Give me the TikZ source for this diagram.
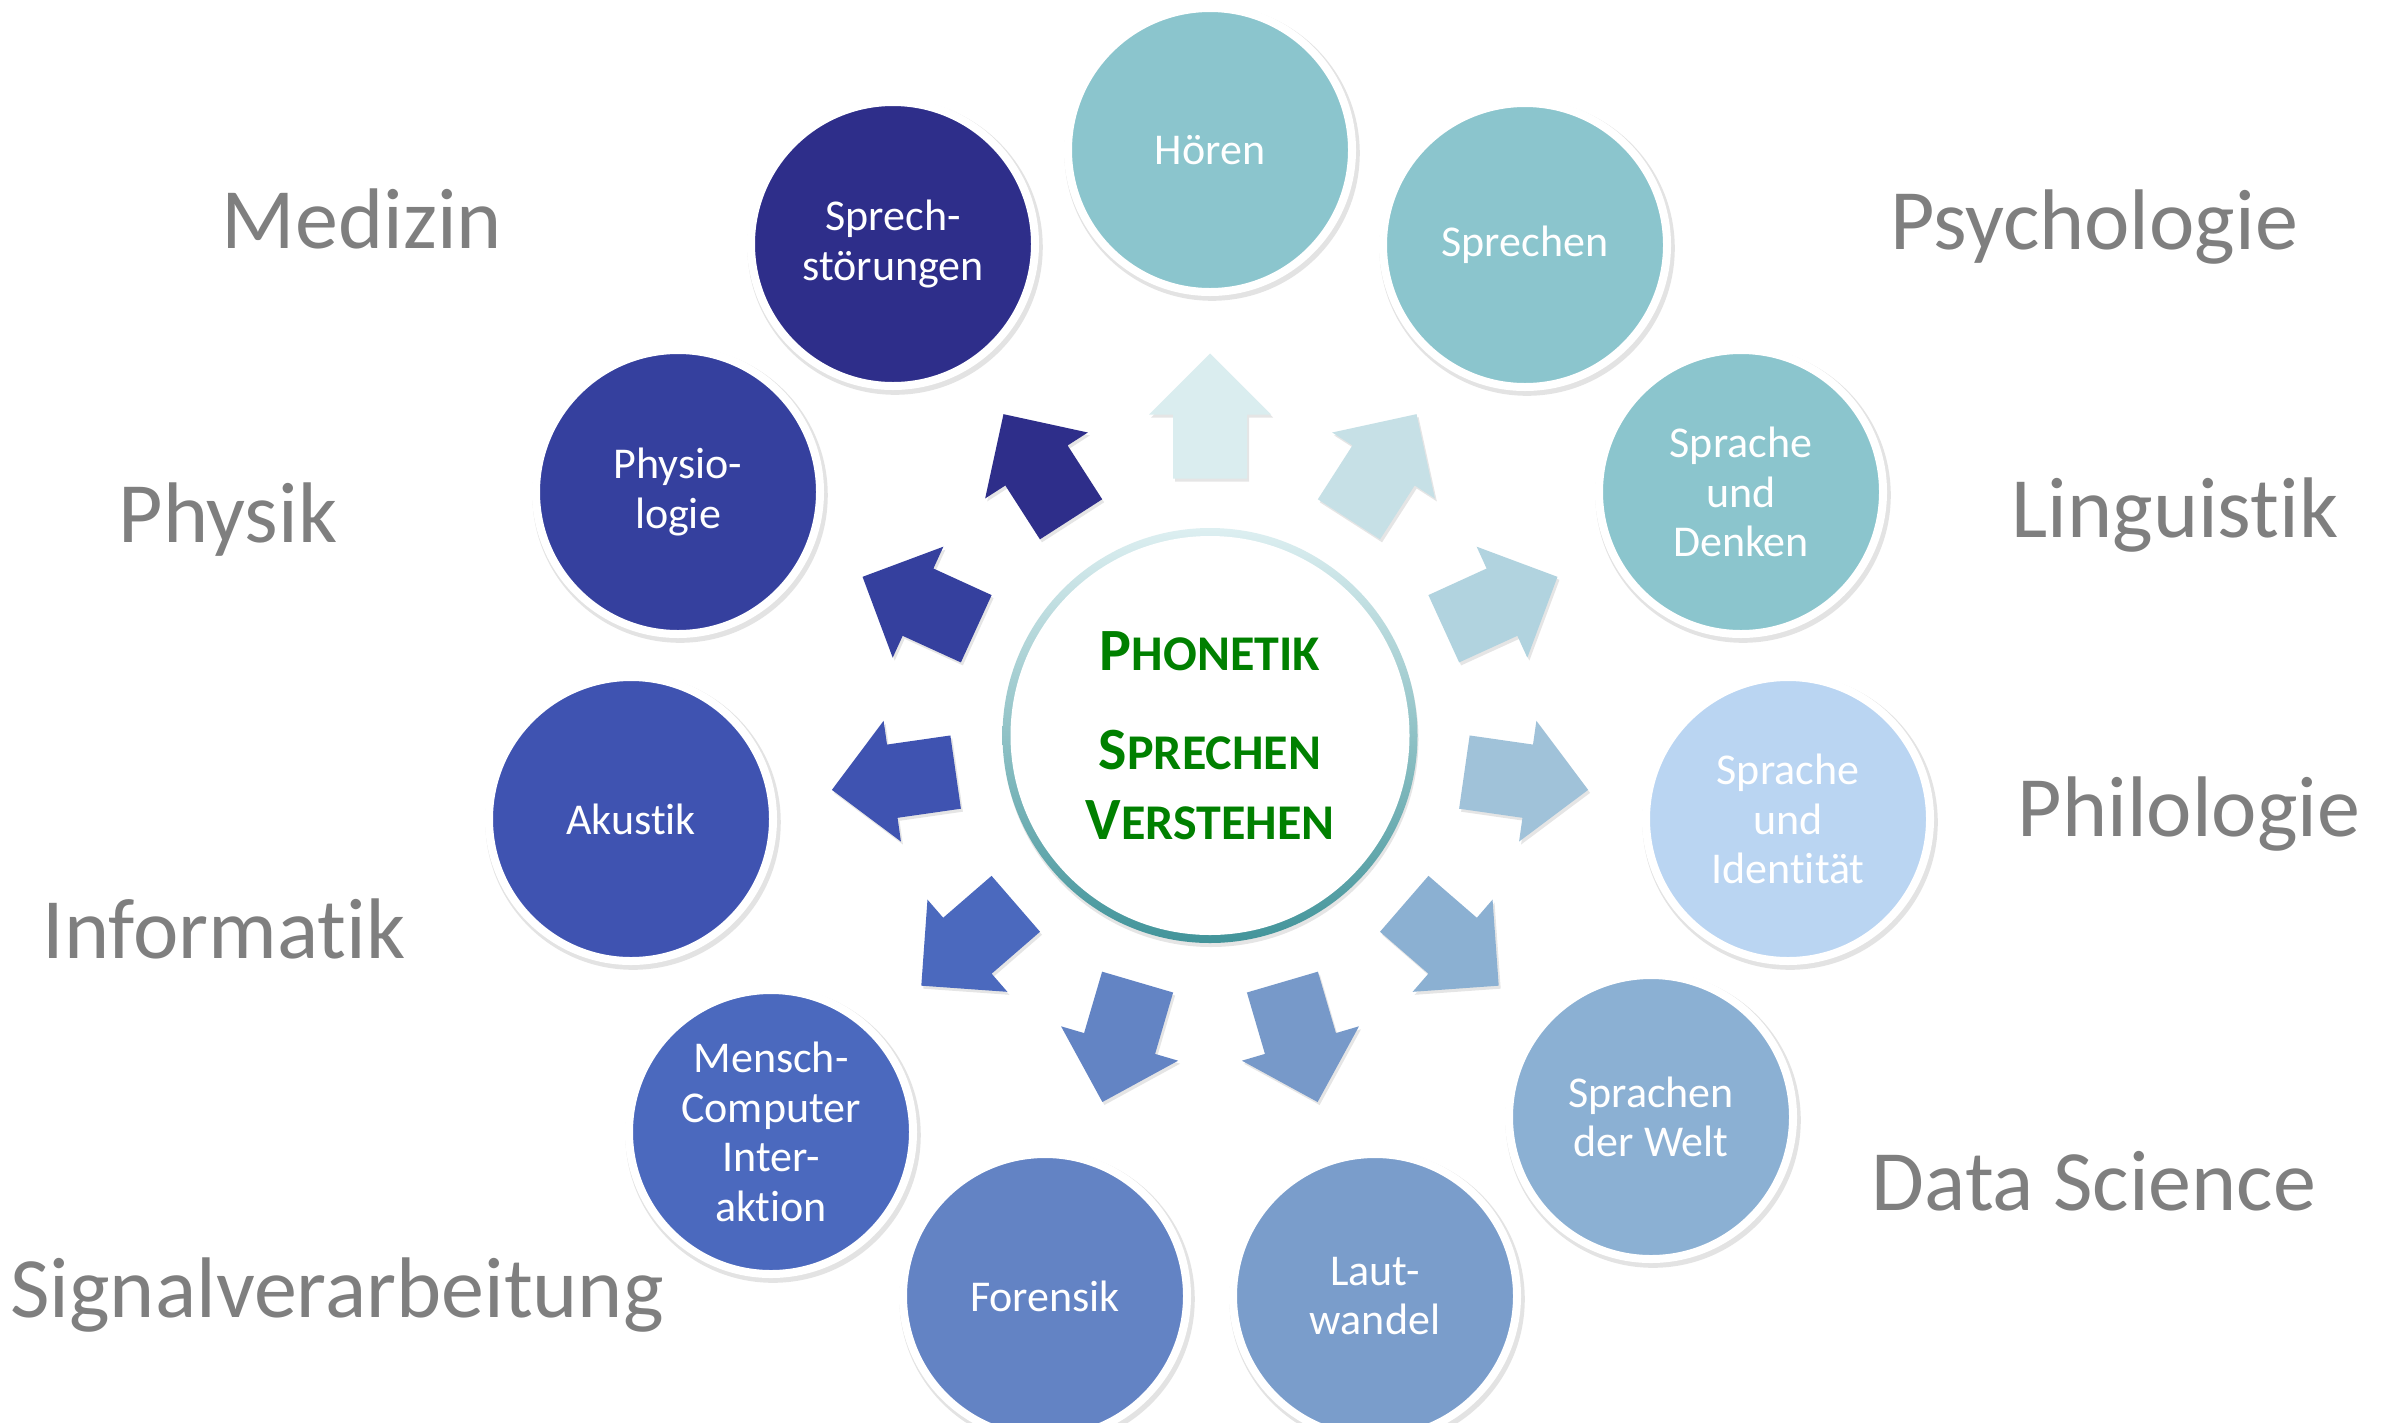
\documentclass[tikz,border=0pt]{standalone}
\usepackage{fontspec}
\setmainfont{Carlito}[RawFeature={-liga;-clig;-dlig;-calt}]
\usetikzlibrary{shapes,arrows,positioning,shadows,calc}

\definecolor{labelgray}{HTML}{7F7F7F}
\definecolor{phongreen}{HTML}{008000}
\definecolor{ringtop}{HTML}{DDEFF1}
\definecolor{ringmid}{HTML}{A6D2D5}
\definecolor{ringbot}{HTML}{42949A}
\definecolor{teal}{HTML}{8BC5CD}
\definecolor{paleblue}{HTML}{BAD5F2}
\definecolor{c5}{HTML}{8BB0D3}
\definecolor{c6}{HTML}{7A9DCB}
\definecolor{c7}{HTML}{6383C4}
\definecolor{c8}{HTML}{4B69BE}
\definecolor{c9}{HTML}{3F53B1}
\definecolor{c10}{HTML}{35409E}
\definecolor{c11}{HTML}{2E2E8A}
\definecolor{arr1}{HTML}{DAEDEF}
\definecolor{arr2}{HTML}{C6E0E6}
\definecolor{arr3}{HTML}{B1D3DF}
\definecolor{arr4}{HTML}{A0C2D9}
\definecolor{arr5}{HTML}{8BB0D2}
\definecolor{arr6}{HTML}{7799C9}
\definecolor{arr7}{HTML}{6384C4}
\definecolor{arr8}{HTML}{4B69BE}
\definecolor{arr9}{HTML}{3F53B1}
\definecolor{arr10}{HTML}{35409E}
\definecolor{arr11}{HTML}{2E2E8A}

\newcommand{\capsc}[2]{{\fontsize{60}{70}\selectfont #1}{\fontsize{50}{70}\selectfont #2}}

\tikzset{
  topic/.style={circle, minimum size=284pt, inner sep=0pt, draw=white, line width=8pt,
    text=white, align=center, font=\fontsize{44}{49.5}\selectfont,
    drop shadow={shadow xshift=2pt, shadow yshift=-3pt, shadow scale=1.04, opacity=.22}},
  field/.style={anchor=base, text=labelgray, font=\fontsize{86}{90}\selectfont},
  blockarrow/.style={drop shadow={shadow xshift=2pt, shadow yshift=-3pt, opacity=.2}}
}

\begin{document}
\begin{tikzpicture}[x=1pt,y=1pt]
			\useasboundingbox[fill=white] (0,0) rectangle (2389,-1422);

			\node[circle, minimum size=415pt, inner sep=0pt, top color=ringtop, middle color=ringmid, bottom color=ringbot,
			  drop shadow={shadow xshift=1pt, shadow yshift=-4pt, opacity=.2}] (ring) at (1210,-735.5) {};
			\node[circle, fill=white, minimum size=399pt, inner sep=0pt, align=center, text=phongreen,
			  font=\fontsize{60}{70}\selectfont\bfseries] (core) at (ring) {\capsc{P}{HONETIK}\\[29pt]\capsc{S}{PRECHEN}\\\capsc{V}{ERSTEHEN}};

			\foreach \i in {1,...,11} {
			  \pgfmathsetmacro{\a}{90-(\i-1)*360/11}
			  \fill[arr\i, blockarrow] ($(core)+(\a:257)+(\a-90:37)$) -- ($(core)+(\a:321)+(\a-90:37)$)
			    -- ($(core)+(\a:321)+(\a-90:61)$) -- ($(core)+(\a:382)$) -- ($(core)+(\a:321)+(\a+90:61)$)
			    -- ($(core)+(\a:321)+(\a+90:37)$) -- ($(core)+(\a:257)+(\a+90:37)$) -- cycle;
			}

			\node[topic, fill=teal] (hoeren) at (1210,-150) {Hören};
			\node[topic, fill=teal] (sprechen) at (1525,-245) {Sprechen};
			\node[topic, fill=teal] (denken) at (1741,-492) {Sprache\\und\\Denken};
			\node[topic, fill=paleblue] (identitaet) at (1788,-819) {Sprache\\und\\Identität};
			\node[topic, fill=c5] (welt) at (1651,-1117) {Sprachen\\der Welt};
			\node[topic, fill=c6] (lautwandel) at (1375,-1296) {Laut-\\wandel};
			\node[topic, fill=c7] (forensik) at (1045,-1296) {Forensik};
			\node[topic, fill=c8] (mci) at (771,-1132) {Mensch-\\Computer\\Inter-\\aktion};
			\node[topic, fill=c9] (akustik) at (631,-819) {Akustik};
			\node[topic, fill=c10] (physio) at (678,-492) {Physio-\\logie};
			\node[topic, fill=c11] (stoerungen) at (893,-244) {Sprech-\\störungen};

			\node[field] (medizin) at (362,-248) {Medizin};
			\node[field] (physik) at (228,-542) {Physik};
			\node[field] (informatik) at (224,-958) {Informatik};
			\node[field] (signal) at (337,-1317) {Signalverarbeitung};
			\node[field] (psychologie) at (2094,-249) {Psychologie};
			\node[field] (linguistik) at (2175,-537) {Linguistik};
			\node[field] (philologie) at (2189,-836) {Philologie};
			\node[field] (datascience) at (2094,-1210) {Data Science};
\end{tikzpicture}
\end{document}
